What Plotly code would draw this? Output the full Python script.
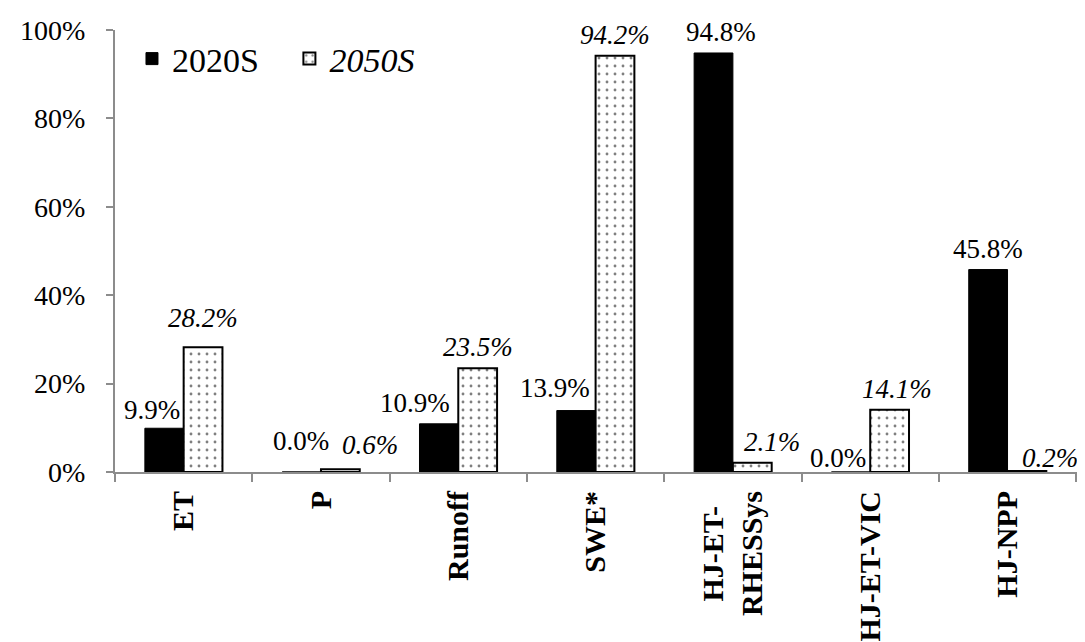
import plotly.graph_objects as go

categories = ["ET", "P", "Runoff", "SWE*", "HJ-ET-&nbsp;&nbsp;<br>RHESSys", "HJ-ET-VIC", "HJ-NPP"]
values_2020 = [9.9, 0.0, 10.9, 13.9, 94.8, 0.0, 45.8]
values_2050 = [28.2, 0.6, 23.5, 94.2, 2.1, 14.1, 0.2]
y_ticks = [0, 20, 40, 60, 80, 100]

# manual label nudges (pixels) as in the original figure
nudge_x_2020 = [-12, 0, -24, -21, 8, -13, 0]
nudge_y_2020 = [-3, 10, 0, 2, 0, -7, 0]
nudge_x_2050 = [0, 30, 0, 0, 20, 7, 23]
nudge_y_2050 = [8, 3, 0, 0, 0, 0, -8]

FONT = "Liberation Serif"
BAR_GAP = 0.435
PLOT_W = 1085 - 107 - 13
half_bar_px = PLOT_W / len(categories) * (1 - BAR_GAP) / 4

fig = go.Figure()
fig.add_trace(go.Bar(
    x=categories, y=values_2020, name="2020S&nbsp;&nbsp;&nbsp;",
    marker=dict(color="black", line=dict(color="black", width=1)),
))
fig.add_trace(go.Bar(
    x=categories, y=values_2050, name="<i>2050S</i>",
    marker=dict(color="white", line=dict(color="black", width=2),
                pattern=dict(shape=".", fgcolor="black", bgcolor="white", size=8, solidity=0.1)),
))

annotations = []
for i, c in enumerate(categories):
    annotations.append(dict(
        x=c, y=values_2020[i], xref="x", yref="y", text=f"{values_2020[i]:.1f}%",
        showarrow=False, xanchor="center", yanchor="bottom",
        xshift=-half_bar_px + nudge_x_2020[i], yshift=4 + nudge_y_2020[i],
        font=dict(family=FONT, size=27, color="black"),
    ))
    annotations.append(dict(
        x=c, y=values_2050[i], xref="x", yref="y", text=f"<i>{values_2050[i]:.1f}%</i>",
        showarrow=False, xanchor="center", yanchor="bottom",
        xshift=half_bar_px + nudge_x_2050[i], yshift=4 + nudge_y_2050[i],
        font=dict(family=FONT, size=27, color="black"),
    ))

fig.update_layout(
    width=1085, height=642,
    margin=dict(l=107, r=13, t=22, b=178, autoexpand=False),
    paper_bgcolor="white", plot_bgcolor="white",
    barmode="group", bargap=BAR_GAP, bargroupgap=0,
    font=dict(family=FONT, color="black"),
    showlegend=True,
    legend=dict(orientation="h", x=0.0176, y=1.0, xanchor="left", yanchor="top",
                font=dict(family=FONT, size=34, color="black"),
                bgcolor="rgba(0,0,0,0)", tracegroupgap=0),
    annotations=annotations,
)
fig.update_xaxes(
    type="category", tickangle=-90, showline=True, linecolor="#8c8c8c", linewidth=2,
    ticks="outside", tickson="boundaries", tickcolor="#8c8c8c", ticklen=8, tickwidth=2,
    tickfont=dict(family=FONT, size=30, color="black", weight="bold"),
    ticklabelstandoff=5, showgrid=False, automargin=False,
)
fig.update_yaxes(
    range=[0, 100], tickvals=y_ticks, ticktext=[f"{v}%" for v in y_ticks],
    showline=True, linecolor="#8c8c8c", linewidth=2,
    ticks="outside", tickcolor="#8c8c8c", ticklen=7, tickwidth=2,
    tickfont=dict(family=FONT, size=28, color="black"),
    ticklabelstandoff=15, showgrid=False, zeroline=False, automargin=False,
)

fig.write_html("out.html")
